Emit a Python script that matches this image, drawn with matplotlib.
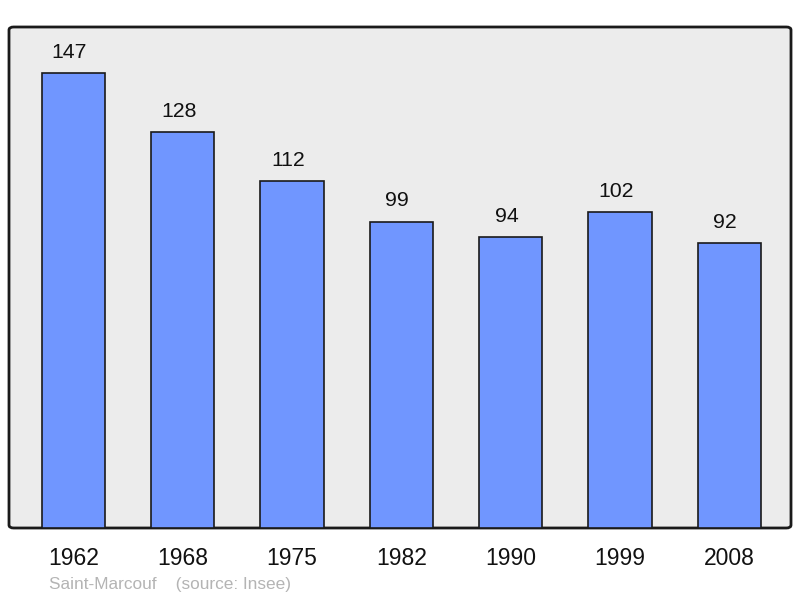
import matplotlib
matplotlib.use("Agg")
import matplotlib.pyplot as plt
from matplotlib.patches import FancyBboxPatch

years = ["1962", "1968", "1975", "1982", "1990", "1999", "2008"]
population = [147, 128, 112, 99, 94, 102, 92]

plt.rcParams['font.family'] = ['Liberation Sans', 'DejaVu Sans']

fig = plt.figure(figsize=(8, 5.98), dpi=100)
ax = fig.add_axes([9/800, (598-528)/598, 782/800, 501/598])
ax.set_facecolor('none')

# rounded frame
frame = FancyBboxPatch((0, 0), 1, 1, boxstyle="round,pad=0,rounding_size=0.006",
                       transform=ax.transAxes, facecolor='#ececec', edgecolor='#1a1a1a',
                       linewidth=2, zorder=0, clip_on=False)
ax.add_patch(frame)

x = list(range(len(years)))
bars = ax.bar(x, population, width=0.58, color='#7096ff', edgecolor='#1a1a1a',
              linewidth=1.2, zorder=2)
for xi, v in zip(x, population):
    ax.annotate(str(v), (xi, v), xytext=(-3, 15), textcoords='offset points',
                ha='center', va='center', fontsize=15.3, color='#111111')

ax.set_xlim(-0.59, 6.565)
ax.set_ylim(0, 161.9)
ax.set_xticks(x)
ax.set_xticklabels(years, fontsize=16.5, color='#111111')
ax.tick_params(axis='x', length=0, pad=14)
ax.set_yticks([])
for s in ax.spines.values():
    s.set_visible(False)

fig.text(49/800, 1 - 584/598, "Saint-Marcouf    (source: Insee)", fontsize=12.4,
         color='#b4b4b4', ha='left', va='center')

fig.savefig("out.png", dpi=100)
